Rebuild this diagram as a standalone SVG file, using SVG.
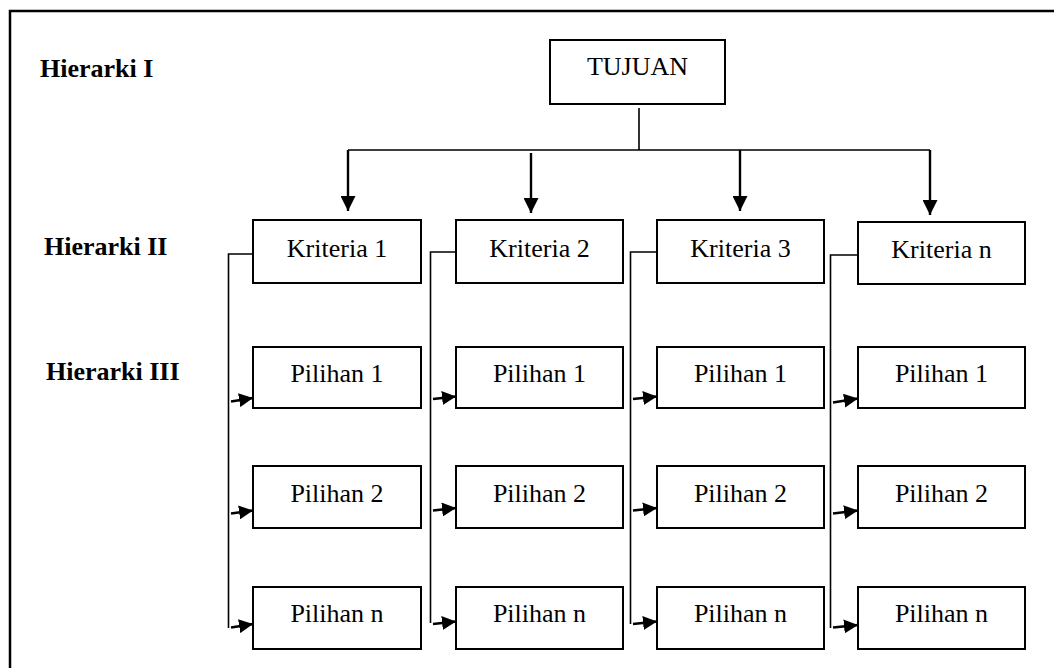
<svg xmlns="http://www.w3.org/2000/svg" width="1054" height="668" viewBox="0 0 1054 668">
<style>
.box{fill:#fff;stroke:#000;stroke-width:2}
.t{font-family:"Liberation Serif","Times New Roman",serif;font-size:26px;fill:#000;text-anchor:middle}
.h{font-family:"Liberation Serif","Times New Roman",serif;font-size:26px;font-weight:bold;fill:#000}
.ln{fill:none;stroke:#000;stroke-width:1.6}
.ar{fill:none;stroke:#000;stroke-width:2.4}
</style>
<defs>
<marker id="big" viewBox="0 0 15 15" refX="15" refY="7.5" markerWidth="15" markerHeight="15" markerUnits="userSpaceOnUse" orient="auto">
<path d="M0,0 L15,7.5 L0,15 z" fill="#000"/>
</marker>
<marker id="sm" viewBox="0 0 14 14" refX="14" refY="7" markerWidth="14" markerHeight="14" markerUnits="userSpaceOnUse" orient="auto">
<path d="M0,0 L14,7 L0,14 z" fill="#000"/>
</marker>
</defs>
<rect width="1054" height="668" fill="#fff"/>
<path d="M10,668 V11 H1054" fill="none" stroke="#000" stroke-width="2.5"/>
<g id="labels">
<text class="h" x="40" y="77">Hierarki I</text>
<text class="h" x="44" y="255">Hierarki II</text>
<text class="h" x="46" y="380">Hierarki III</text>
</g>
<g id="connectors">
<path class="ln" d="M639,108 V150 M348,150 H930"/>
<line class="ar" x1="348" y1="150" x2="348" y2="211" marker-end="url(#big)"/>
<line class="ar" x1="531" y1="153" x2="531" y2="213" marker-end="url(#big)"/>
<line class="ar" x1="740" y1="150" x2="740" y2="211" marker-end="url(#big)"/>
<line class="ar" x1="930" y1="150" x2="930" y2="215" marker-end="url(#big)"/>
<path class="ln" d="M253,254 H228.5 V628"/>
<path class="ln" d="M456,252 H430.5 V623"/>
<path class="ln" d="M657,252 H630.5 V624"/>
<path class="ln" d="M858,255 H830.5 V628"/>
<line class="ar" x1="231" y1="401.5" x2="253" y2="398" marker-end="url(#sm)"/>
<line class="ar" x1="231" y1="513.5" x2="253" y2="510.5" marker-end="url(#sm)"/>
<line class="ar" x1="231" y1="627.5" x2="253" y2="624" marker-end="url(#sm)"/>
<line class="ar" x1="433" y1="399" x2="456" y2="396.5" marker-end="url(#sm)"/>
<line class="ar" x1="433" y1="510.5" x2="456" y2="508" marker-end="url(#sm)"/>
<line class="ar" x1="433" y1="624" x2="456" y2="621.5" marker-end="url(#sm)"/>
<line class="ar" x1="633" y1="399" x2="657" y2="396.5" marker-end="url(#sm)"/>
<line class="ar" x1="633" y1="510.5" x2="657" y2="508" marker-end="url(#sm)"/>
<line class="ar" x1="633" y1="624" x2="657" y2="621.5" marker-end="url(#sm)"/>
<line class="ar" x1="833" y1="402.5" x2="858" y2="398.5" marker-end="url(#sm)"/>
<line class="ar" x1="833" y1="513.5" x2="858" y2="510.5" marker-end="url(#sm)"/>
<line class="ar" x1="833" y1="627.5" x2="858" y2="625" marker-end="url(#sm)"/>
</g>
<g id="tujuan"><rect class="box" x="550" y="40" width="175" height="64"/><text class="t" x="637.5" y="75">TUJUAN</text></g>
<g id="kriteria1"><rect class="box" x="253" y="220" width="168" height="63"/><text class="t" x="337" y="257">Kriteria 1</text></g>
<g id="kriteria2"><rect class="box" x="456" y="220" width="167" height="63"/><text class="t" x="539.5" y="257">Kriteria 2</text></g>
<g id="kriteria3"><rect class="box" x="657" y="220" width="167" height="63"/><text class="t" x="740.5" y="257">Kriteria 3</text></g>
<g id="kriterian"><rect class="box" x="858" y="222" width="167" height="62"/><text class="t" x="941.5" y="258">Kriteria n</text></g>
<g id="p1-1"><rect class="box" x="253" y="347" width="168" height="61"/><text class="t" x="337" y="382">Pilihan 1</text></g>
<g id="p1-2"><rect class="box" x="253" y="466" width="168" height="62"/><text class="t" x="337" y="502">Pilihan 2</text></g>
<g id="p1-n"><rect class="box" x="253" y="587" width="168" height="62"/><text class="t" x="337" y="622">Pilihan n</text></g>
<g id="p2-1"><rect class="box" x="456" y="347" width="167" height="61"/><text class="t" x="539.5" y="382">Pilihan 1</text></g>
<g id="p2-2"><rect class="box" x="456" y="466" width="167" height="62"/><text class="t" x="539.5" y="502">Pilihan 2</text></g>
<g id="p2-n"><rect class="box" x="456" y="587" width="167" height="62"/><text class="t" x="539.5" y="622">Pilihan n</text></g>
<g id="p3-1"><rect class="box" x="657" y="347" width="167" height="61"/><text class="t" x="740.5" y="382">Pilihan 1</text></g>
<g id="p3-2"><rect class="box" x="657" y="466" width="167" height="62"/><text class="t" x="740.5" y="502">Pilihan 2</text></g>
<g id="p3-n"><rect class="box" x="657" y="587" width="167" height="62"/><text class="t" x="740.5" y="622">Pilihan n</text></g>
<g id="p4-1"><rect class="box" x="858" y="347" width="167" height="61"/><text class="t" x="941.5" y="382">Pilihan 1</text></g>
<g id="p4-2"><rect class="box" x="858" y="466" width="167" height="62"/><text class="t" x="941.5" y="502">Pilihan 2</text></g>
<g id="p4-n"><rect class="box" x="858" y="587" width="167" height="62"/><text class="t" x="941.5" y="622">Pilihan n</text></g>
</svg>
